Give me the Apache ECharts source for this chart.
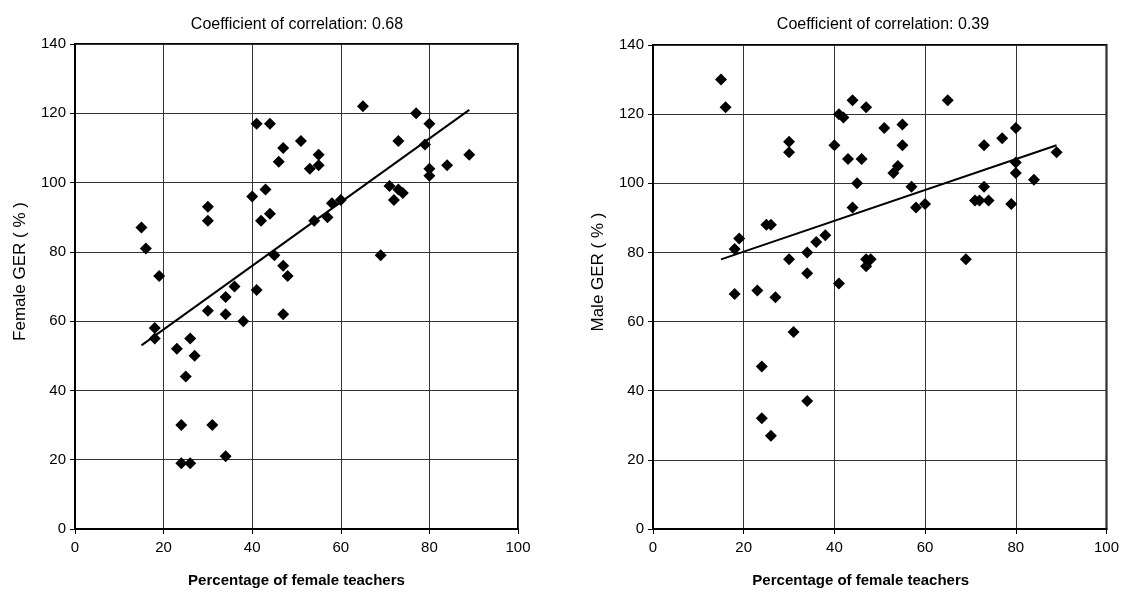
<html>
<head>
<meta charset="utf-8">
<title>GER vs female teachers</title>
<script src="https://cdn.jsdelivr.net/npm/echarts@6/dist/echarts.min.js"></script>
<style>
html,body{margin:0;padding:0;height:100%;width:100%;overflow:hidden;background:#fff;}
#main{position:absolute;left:0;top:0;width:1122px;height:593px;}
</style>
</head>
<body>
<div id="main"></div>
<script type="text/javascript">
  // percentage of female teachers (x) with female / male GER (y)
  var femaleGER = [
    [15,87],[16,81],[19,73],[18,58],[18,55],[23,52],[24,30],[24,19],[25,44],[26,55],
    [26,19],[27,50],[30,93],[30,89],[30,63],[31,30],[34,67],[34,62],[34,21],[36,70],
    [38,60],[40,96],[41,117],[41,69],[42,89],[43,98],[44,117],[44,91],[45,79],[46,106],
    [47,110],[47,76],[47,62],[48,73],[51,112],[53,104],[54,89],[55,108],[55,105],[57,90],
    [58,94],[60,95],[65,122],[69,79],[71,99],[72,95],[73,112],[73,98],[74,97],[77,120],
    [79,111],[80,117],[80,104],[80,102],[84,105],[89,108]
  ];
  var maleGER = [
    [15,130],[16,122],[18,81],[19,84],[18,68],[23,69],[24,47],[24,32],[25,88],[26,88],
    [26,27],[27,67],[30,112],[30,109],[30,78],[31,57],[34,80],[34,74],[34,37],[36,83],
    [38,85],[40,111],[41,120],[42,119],[41,71],[43,107],[44,124],[44,93],[45,100],[46,107],
    [47,122],[47,78],[48,78],[47,76],[51,116],[53,103],[54,105],[55,117],[55,111],[57,99],
    [58,93],[60,94],[65,124],[69,78],[71,95],[72,95],[73,111],[73,99],[74,95],[77,113],
    [79,94],[80,116],[80,106],[80,103],[84,101],[89,109]
  ];
  // trend line end points
  var femaleTrend = [[15,53],[89,121]];
  var maleTrend = [[15,78],[89,111]];
  var titles = ['Coefficient of correlation: 0.68', 'Coefficient of correlation: 0.39'];
  var yNames = ['Female GER ( % )', 'Male GER ( % )'];
  var xName = 'Percentage of female teachers';

  var font = 'Liberation Sans, Arial, sans-serif';
  var chart = echarts.init(document.getElementById('main'));

  var xAxisCfg = function(i) {
    return {
      type: 'value', gridIndex: i, min: 0, max: 100, interval: 20,
      name: xName, nameLocation: 'middle', nameGap: 44,
      nameTextStyle: {color: '#000', fontSize: 15, fontWeight: 'bold', fontFamily: font,
        padding: i ? [0, 38, 0, 0] : 0},
      axisLine: {onZero: false, lineStyle: {color: '#000', width: 2}},
      axisTick: {show: true, length: 5, lineStyle: {color: '#000'}},
      axisLabel: {color: '#000', fontSize: 15, fontFamily: font, margin: 11},
      splitLine: {show: true, lineStyle: {color: '#333', width: 1}}
    };
  };
  var yAxisCfg = function(i) {
    return {
      type: 'value', gridIndex: i, min: 0, max: 140, interval: 20,
      name: yNames[i], nameLocation: 'middle', nameGap: 46,
      nameTextStyle: {color: '#000', fontSize: 17, fontFamily: font, padding: [0, 0, 0, 30]},
      axisLine: {show: true, onZero: false, lineStyle: {color: '#000', width: 2}},
      axisTick: {show: true, length: 5, lineStyle: {color: '#000'}},
      axisLabel: {color: '#000', fontSize: 15, fontFamily: font, margin: 9},
      splitLine: {show: true, lineStyle: {color: '#333', width: 1}}
    };
  };

  var scatter = function(i, data) {
    return {
      type: 'scatter', xAxisIndex: i, yAxisIndex: i,
      symbol: 'diamond', symbolSize: [12, 12],
      itemStyle: {color: '#000', opacity: 1},
      data: data, z: 3
    };
  };
  var trend = function(i, data) {
    return {
      type: 'line', xAxisIndex: i, yAxisIndex: i,
      showSymbol: false, symbol: 'none',
      lineStyle: {color: '#000', width: 2},
      data: data, z: 2
    };
  };

  var option = {
    backgroundColor: '#fff',
    animation: false,
    title: [{
      text: titles[0], left: 292, top: 12, textAlign: 'center',
      textStyle: {color: '#000', fontSize: 16, fontWeight: 'normal', fontFamily: font}
    }, {
      text: titles[1], left: 878, top: 12, textAlign: 'center',
      textStyle: {color: '#000', fontSize: 16, fontWeight: 'normal', fontFamily: font}
    }],
    grid: [
      {left: 75, top: 44, width: 443, height: 489, show: true, borderColor: '#000', borderWidth: 2, backgroundColor: '#fff'},
      {left: 653, top: 45, width: 455, height: 487, show: true, borderColor: '#000', borderWidth: 2, backgroundColor: '#fff'}
    ],
    xAxis: [xAxisCfg(0), xAxisCfg(1)],
    yAxis: [yAxisCfg(0), yAxisCfg(1)],
    series: [
      scatter(0, femaleGER), trend(0, femaleTrend),
      scatter(1, maleGER), trend(1, maleTrend)
    ]
  };

  chart.setOption(option);
</script>
</body>
</html>
